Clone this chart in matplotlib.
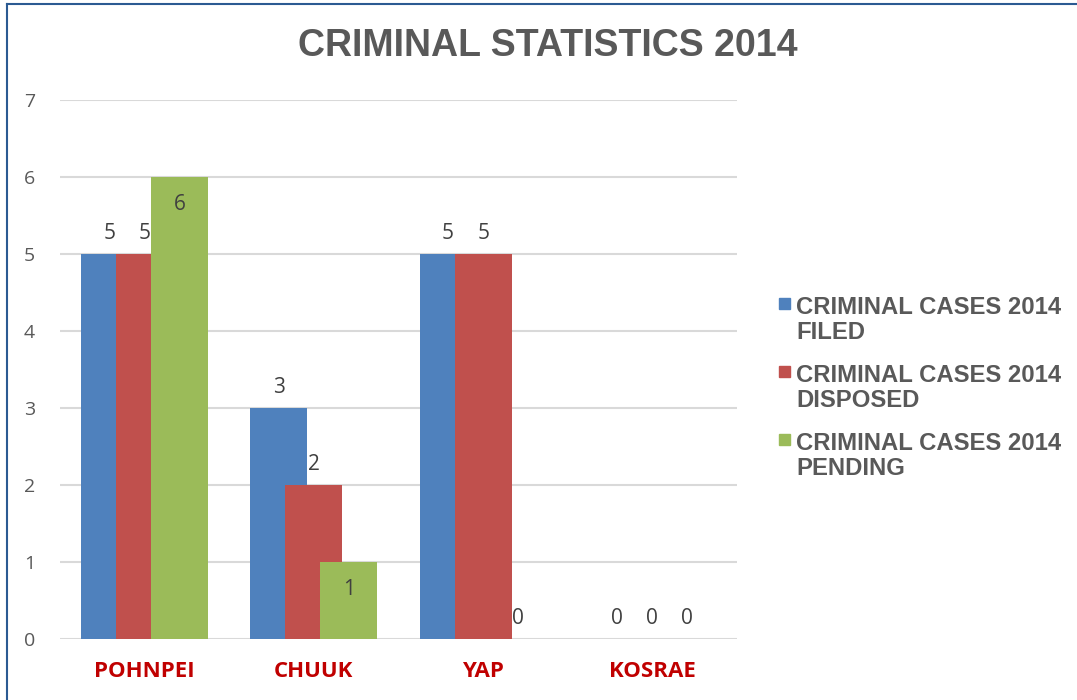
import numpy as np
import matplotlib.pyplot as plt
from matplotlib.patches import Rectangle
from matplotlib.lines import Line2D

regions = ["POHNPEI", "CHUUK", "YAP", "KOSRAE"]
series = [
    "CRIMINAL CASES 2014\nFILED",
    "CRIMINAL CASES 2014\nDISPOSED",
    "CRIMINAL CASES 2014\nPENDING",
]
filed = [5, 3, 5, 0]
disposed = [5, 2, 5, 0]
pending = [6, 1, 0, 0]
# labels that Excel put inside the bar end: (series index, region index)
inside_labels = [(2, 0), (2, 1)]

colors = ["#4F81BD", "#C0504D", "#9BBB59"]
W, H = 1077, 700

fig = plt.figure(figsize=(W / 100, H / 100), dpi=100)
ax = fig.add_axes([60 / W, 61 / H, 677 / W, 539 / H])

x = np.arange(len(regions))
width = 0.337
offsets = [-0.207, 0, 0.207]

for i, vals in enumerate([filed, disposed, pending]):
    bars = ax.bar(x + offsets[i], vals, width, color=colors[i], zorder=2 + i)
    for j, b in enumerate(bars):
        inside = (i, j) in inside_labels
        ax.annotate(
            str(vals[j]),
            (b.get_x() + b.get_width() / 2, b.get_height()),
            xytext=(0, -20 if inside else 15),
            textcoords="offset points",
            ha="center", va="center",
            fontsize=15, family="Open Sans", color="#404040",
            zorder=10,
        )

ax.set_xlim(-0.5, 3.5)
ax.set_ylim(0, 7)
ax.set_yticks(range(8))
ax.grid(axis="y", color="#D9D9D9", linewidth=1.5, zorder=0)
ax.set_axisbelow(True)
for s in ax.spines.values():
    s.set_visible(False)
ax.tick_params(axis="both", length=0)
ax.tick_params(axis="y", pad=18, labelsize=14, labelcolor="#595959")
ax.tick_params(axis="x", pad=16)
ax.set_xticks(x)
ax.set_xticklabels(regions, fontsize=16, fontweight="bold", color="#C00000",
                   family="Open Sans")
for lab in ax.get_yticklabels():
    lab.set_family("Open Sans")

fig.text(548 / W, 1 - 46 / H, "CRIMINAL STATISTICS 2014", ha="center", va="center",
         fontsize=27, fontweight="bold", family="Liberation Sans", color="#595959")

# legend drawn by hand so the square sits on the first text line
for i, lab in enumerate(series):
    top = 298 + 68 * i
    fig.patches.append(Rectangle((779 / W, 1 - (top + 11) / H), 11 / W, 11 / H,
                                 transform=fig.transFigure, color=colors[i]))
    fig.text(796 / W, 1 - (top - 2) / H, lab, ha="left", va="top", linespacing=1.12,
             fontsize=17.2, fontweight="bold", family="Liberation Sans", color="#595959")

# chart frame (left and top edges visible)
fig.add_artist(Line2D([6.5 / W, 6.5 / W], [0, 1 - 3.5 / H], transform=fig.transFigure,
                      color="#2B5A92", linewidth=1.5))
fig.add_artist(Line2D([6.5 / W, 1], [1 - 3.5 / H, 1 - 3.5 / H], transform=fig.transFigure,
                      color="#2B5A92", linewidth=1.5))

fig.savefig("out.png", dpi=100)
